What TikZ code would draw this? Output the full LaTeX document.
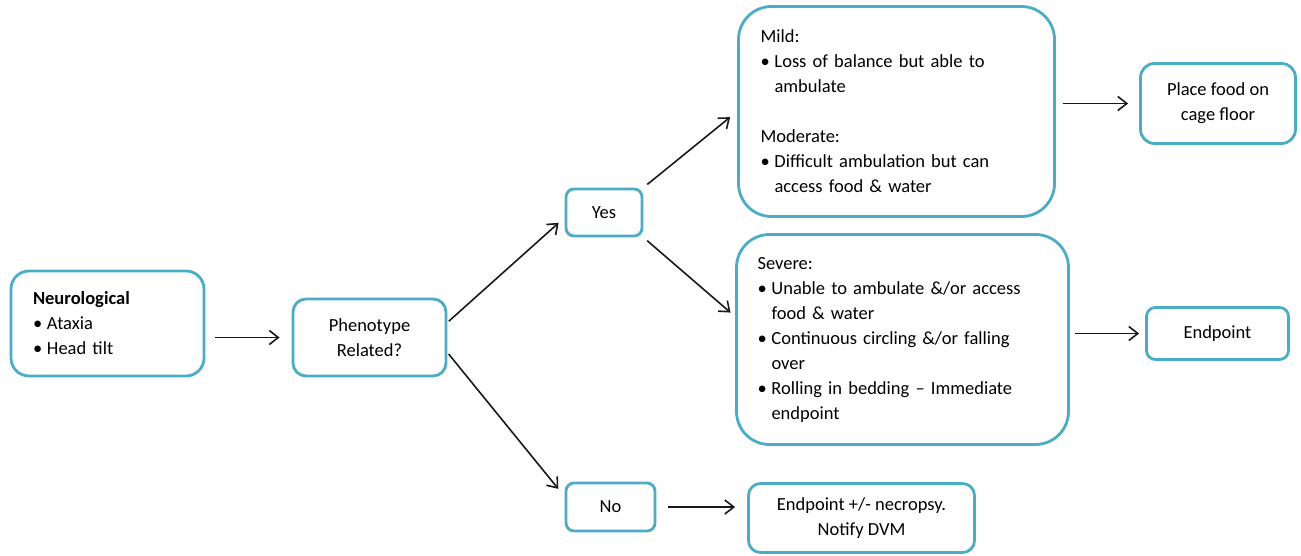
\documentclass[tikz,border=0pt]{standalone}
\usepackage{fontspec}
\setmainfont{Carlito}
\usetikzlibrary{arrows.meta,positioning}
\definecolor{boxblue}{RGB}{75,172,198}
\newcommand{\blt}{\makebox[14pt][l]{\textbullet}}
\newcommand{\ind}{\hspace*{14pt}}

\begin{document}
\begin{tikzpicture}[x=1pt,y=-1pt,
  box/.style={draw=boxblue,line width=2.8pt,align=center,inner sep=0pt,font=\fontsize{18.5}{25}\selectfont},
  listbox/.style={box,align=left,inner xsep=22pt},
  arr/.style={draw=black!90,line width=1.6pt,-{Straight Barb[length=9pt,width=14pt,line width=1.6pt]}}]
\useasboundingbox (0,0) rectangle (1301,556);

%Rounded boxes
\node[listbox,text width=149pt,minimum width=193pt,minimum height=105pt,rounded corners=18pt] (neuro) at (107.5,323.5)
  {\textbf{Neurological}\\ \blt Ataxia\\ \blt Head tilt};
\node[box,minimum width=153pt,minimum height=77pt,rounded corners=13pt] (phen) at (369.5,337.5) {Phenotype\\Related?};
\node[box,minimum width=76pt,minimum height=47pt,rounded corners=8pt] (yes) at (604,212.5) {Yes};
\node[box,minimum width=89pt,minimum height=48pt,rounded corners=8pt] (no) at (610.5,507) {No};
\node[listbox,text width=272pt,minimum width=316pt,minimum height=210pt,rounded corners=33pt] (mild) at (896.5,111.5)
  {Mild:\\ \blt Loss of balance but able to\\ \ind ambulate\\[25pt] Moderate:\\ \blt Difficult ambulation but can\\ \ind access food \& water};
\node[listbox,inner xsep=21pt,text width=290pt,minimum width=332pt,minimum height=210pt,rounded corners=33pt] (sev) at (902.5,339.5)
  {Severe:\\ \blt Unable to ambulate \&/or access\\ \ind food \& water\\ \blt Continuous circling \&/or falling\\ \ind over\\ \blt Rolling in bedding -- Immediate\\ \ind endpoint};
\node[box,minimum width=155pt,minimum height=80pt,rounded corners=14pt] (place) at (1218,103.5) {Place food on\\cage floor};
\node[box,minimum width=142pt,minimum height=52pt,rounded corners=9pt] (endp) at (1217.5,333.5) {Endpoint};
\node[box,minimum width=226pt,minimum height=69pt,rounded corners=12pt] (necro) at (861.5,518) {Endpoint +/- necropsy.\\Notify DVM};

%Arrows
\draw[arr,shorten <=10pt,shorten >=12pt] (neuro.east |- phen.west) -- (phen.west);
\draw[arr,shorten <=2pt,shorten >=8pt] ([yshift=15pt]phen.east) -- ([yshift=-5pt]yes.west);
\draw[arr,shorten <=2pt,shorten >=10pt] ([yshift=-15pt]phen.east) -- ([yshift=-15pt]no.north west);
\draw[arr,shorten <=5pt,shorten >=9pt] (yes.north east) -- (mild.west);
\draw[arr,shorten <=5pt,shorten >=6pt] (yes.south east) -- ([yshift=23pt]sev.west);
\draw[arr,shorten <=12pt,shorten >=12pt] (no.east) -- (no.east -| necro.west);
\draw[arr,shorten <=7pt,shorten >=11pt] (mild.east |- place.west) -- (place.west);
\draw[arr,shorten <=5pt,shorten >=6pt] (sev.east |- endp.west) -- (endp.west);
\end{tikzpicture}
\end{document}
